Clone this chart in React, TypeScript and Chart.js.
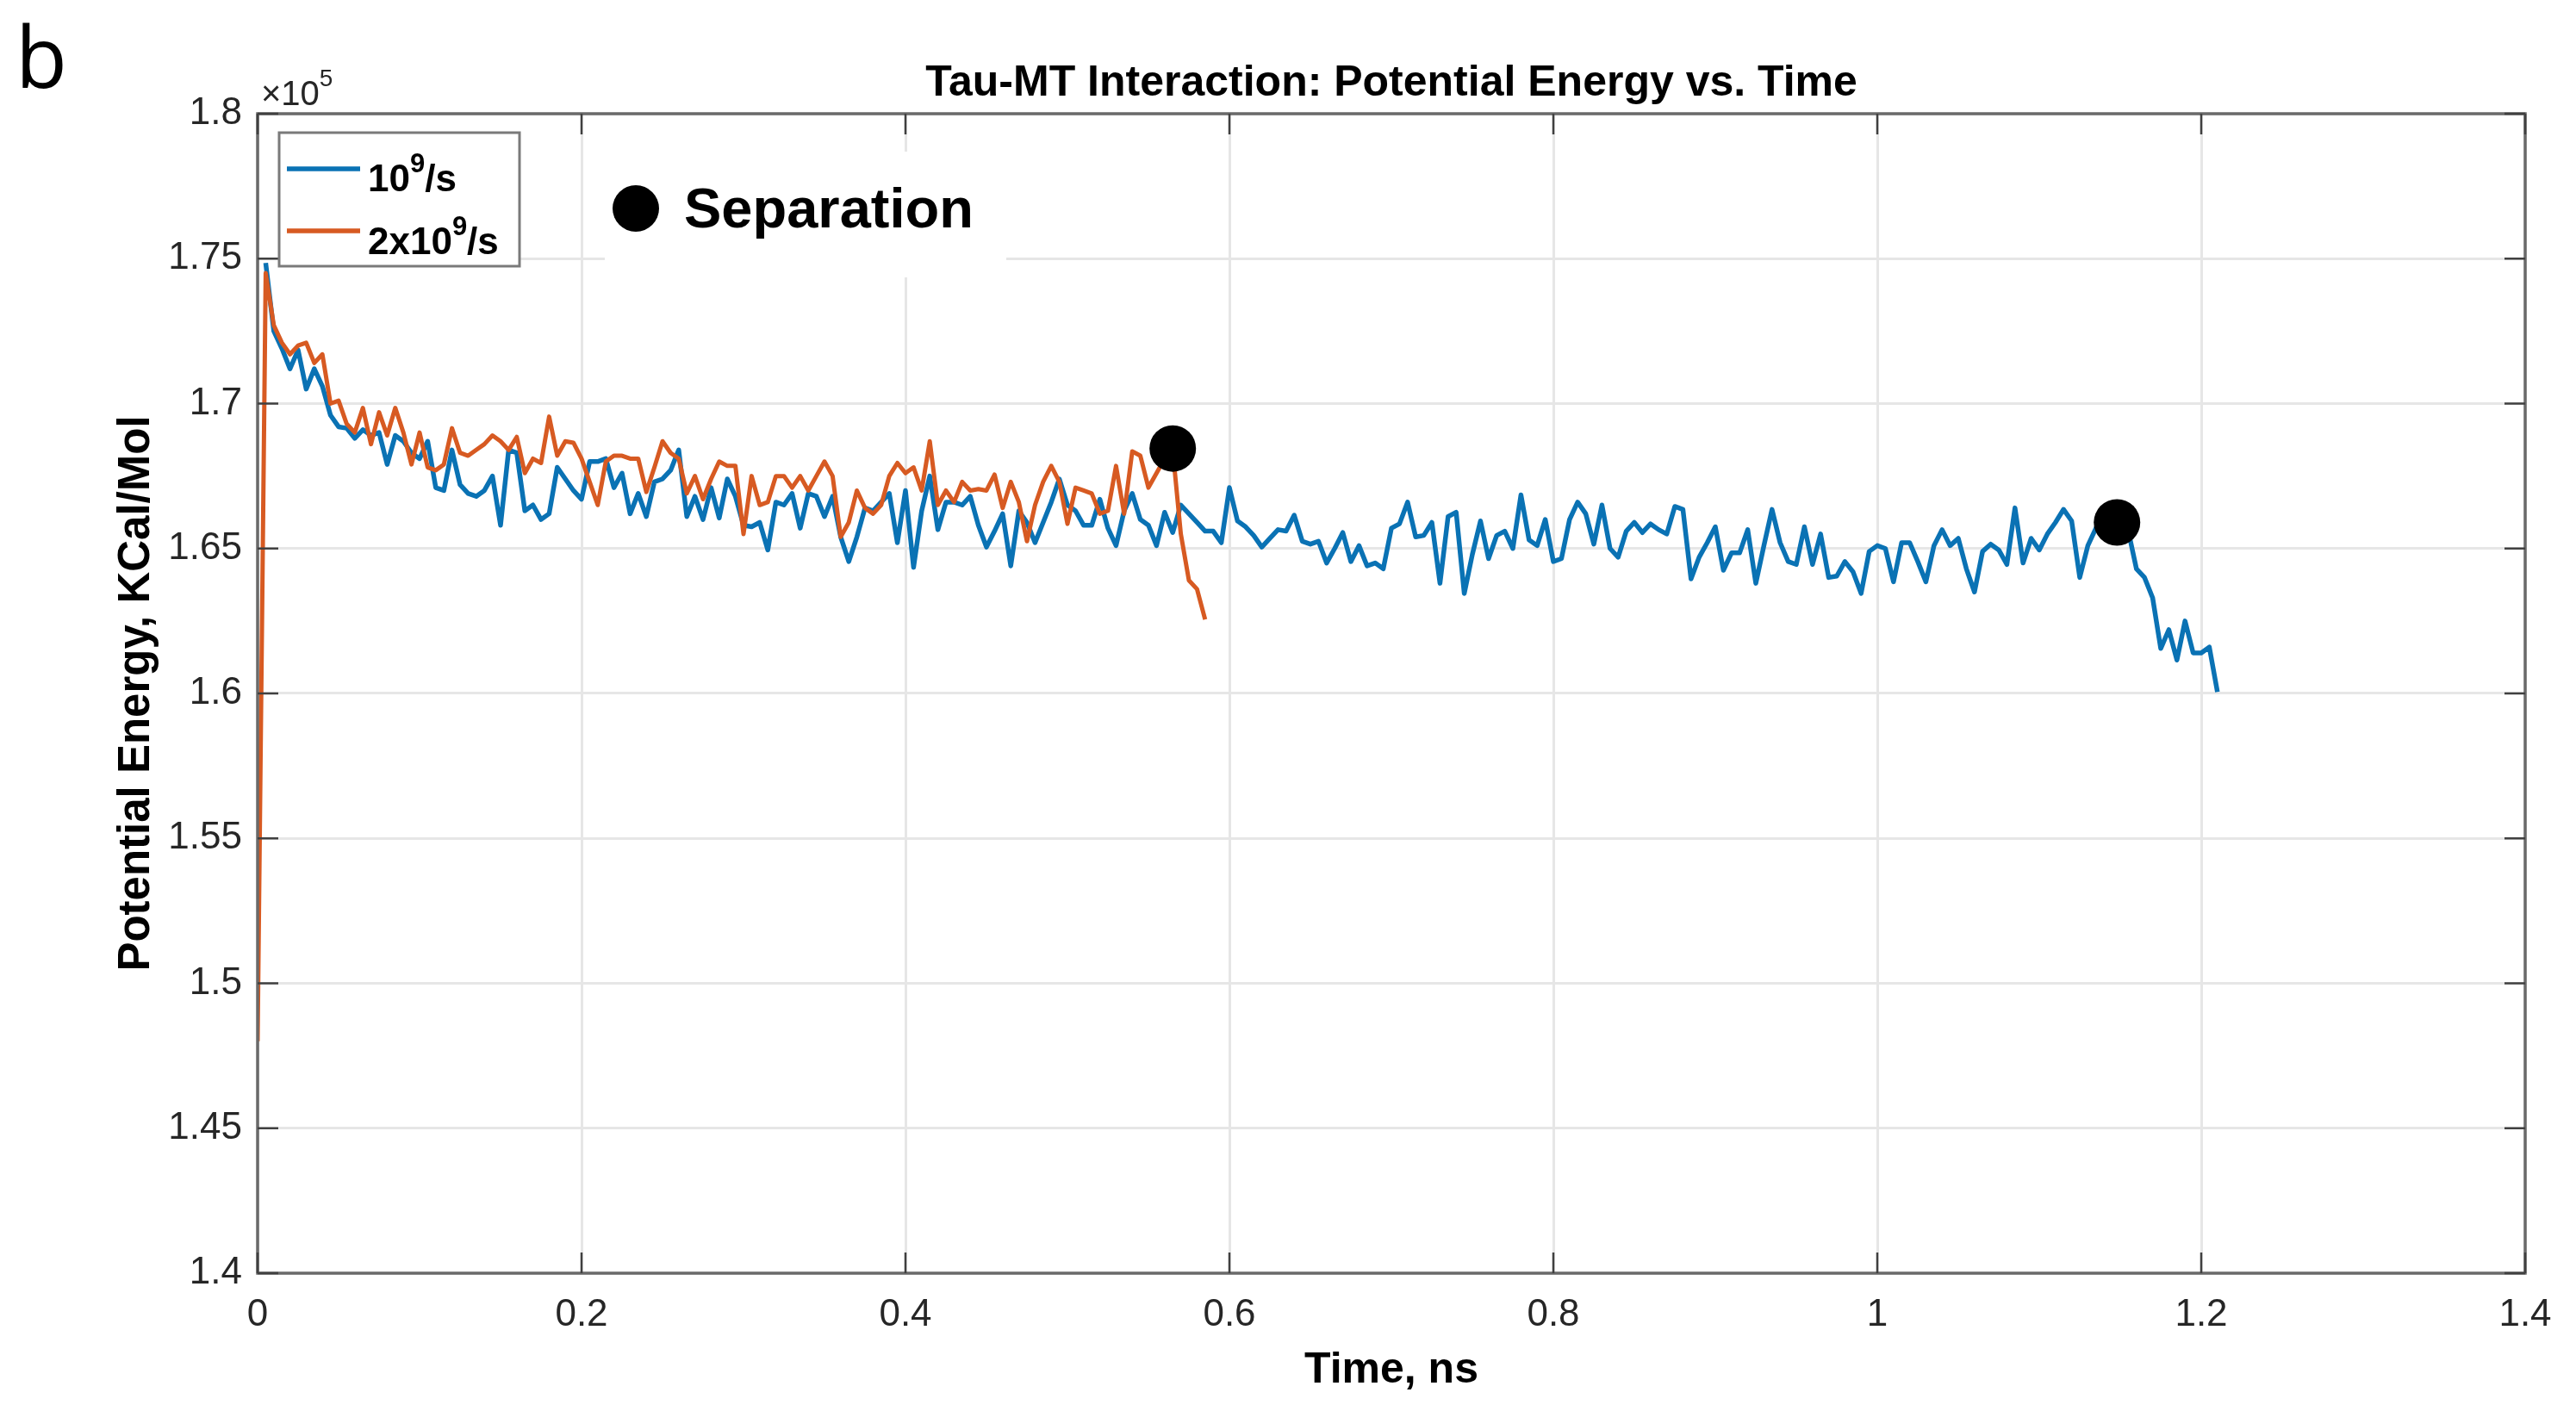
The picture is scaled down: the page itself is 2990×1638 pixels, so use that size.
import React, { useEffect, useRef } from 'react';
import { Chart, registerables } from 'chart.js';

Chart.register(...registerables);

const W = 2990;
const H = 1638;

// Axis ticks (y values in units of 1e5 KCal/Mol)
const X_TICKS = [0, 0.2, 0.4, 0.6, 0.8, 1, 1.2, 1.4];
const Y_TICKS = [1.4, 1.45, 1.5, 1.55, 1.6, 1.65, 1.7, 1.75, 1.8];

// Sampling of the two trajectories (ns)
const BLUE_START = 0.005;
const ORANGE_START = 0;
const SAMPLE_DT = 0.005;

// 10^9/s series (x1e5 KCal/Mol)
const blueValues = [
  1.7485, 1.725, 1.719, 1.712, 1.7185, 1.705, 1.712, 1.706, 1.696, 1.692,
  1.6915, 1.688, 1.691, 1.689, 1.69, 1.679, 1.689, 1.687, 1.683, 1.681,
  1.687, 1.671, 1.67, 1.684, 1.672, 1.669, 1.668, 1.67, 1.675, 1.658,
  1.684, 1.683, 1.663, 1.665, 1.66, 1.662, 1.678, 1.674, 1.67, 1.667,
  1.68, 1.68, 1.681, 1.671, 1.676, 1.662, 1.669, 1.661, 1.673, 1.674,
  1.677, 1.684, 1.661, 1.668, 1.66, 1.671, 1.6605, 1.674, 1.668, 1.658,
  1.6575, 1.659, 1.6495, 1.666, 1.665, 1.669, 1.657, 1.669, 1.668, 1.661,
  1.668, 1.654, 1.6455, 1.654, 1.664, 1.663, 1.666, 1.669, 1.652, 1.67,
  1.6435, 1.663, 1.675, 1.6565, 1.666, 1.666, 1.665, 1.668, 1.658, 1.6505,
  1.656, 1.662, 1.644, 1.663, 1.659, 1.652, 1.659, 1.666, 1.674, 1.665,
  1.663, 1.658, 1.658, 1.667, 1.657, 1.651, 1.663, 1.669, 1.66, 1.658,
  1.651, 1.6625, 1.6555, 1.665, 1.662, 1.659, 1.656, 1.656, 1.652, 1.671,
  1.6595, 1.6575, 1.6545, 1.6505, 1.6535, 1.6565, 1.656, 1.6615, 1.6525, 1.6515,
  1.6525, 1.645, 1.65, 1.6555, 1.6455, 1.651, 1.644, 1.645, 1.643, 1.657,
  1.6585, 1.666, 1.654, 1.6545, 1.659, 1.638, 1.661, 1.6625, 1.6345, 1.648,
  1.6595, 1.6465, 1.6545, 1.656, 1.65, 1.6685, 1.653, 1.651, 1.66, 1.6455,
  1.6465, 1.66, 1.666, 1.662, 1.6515, 1.665, 1.65, 1.647, 1.656, 1.659,
  1.6555, 1.6585, 1.6565, 1.655, 1.6645, 1.6635, 1.6395, 1.647, 1.652, 1.6575,
  1.6425, 1.6485, 1.6485, 1.6565, 1.638, 1.651, 1.6635, 1.652, 1.6455, 1.6445,
  1.6575, 1.6445, 1.655, 1.64, 1.6405, 1.6455, 1.642, 1.6345, 1.649, 1.651,
  1.65, 1.6385, 1.652, 1.652, 1.6455, 1.6385, 1.651, 1.6565, 1.651, 1.6535,
  1.643, 1.635, 1.649, 1.6515, 1.6495, 1.6445, 1.664, 1.645, 1.6535, 1.6495,
  1.655, 1.659, 1.6635, 1.6595, 1.64, 1.651, 1.657, 1.661, 1.664, 1.663,
  1.656, 1.643, 1.64, 1.633, 1.6155, 1.622, 1.6115, 1.625, 1.614, 1.614,
  1.616, 1.6005,
];

// 2x10^9/s series (x1e5 KCal/Mol)
const orangeValues = [
  1.48, 1.745, 1.727, 1.721, 1.717, 1.72, 1.721, 1.714, 1.717, 1.7,
  1.701, 1.693, 1.69, 1.6985, 1.686, 1.697, 1.689, 1.6985, 1.69, 1.679,
  1.69, 1.678, 1.677, 1.679, 1.6915, 1.683, 1.682, 1.684, 1.686, 1.689,
  1.687, 1.684, 1.6885, 1.676, 1.681, 1.6795, 1.6955, 1.682, 1.687, 1.6865,
  1.681, 1.673, 1.665, 1.68, 1.682, 1.682, 1.681, 1.681, 1.6695, 1.678,
  1.687, 1.683, 1.681, 1.669, 1.675, 1.667, 1.674, 1.68, 1.6785, 1.6785,
  1.655, 1.675, 1.665, 1.666, 1.675, 1.675, 1.671, 1.675, 1.67, 1.675,
  1.68, 1.675, 1.654, 1.659, 1.67, 1.664, 1.662, 1.665, 1.675, 1.6795,
  1.676, 1.678, 1.67, 1.687, 1.665, 1.67, 1.666, 1.673, 1.67, 1.6705,
  1.67, 1.6755, 1.664, 1.673, 1.666, 1.6525, 1.665, 1.673, 1.6785, 1.673,
  1.6585, 1.671, 1.67, 1.669, 1.662, 1.663, 1.6785, 1.662, 1.6835, 1.682,
  1.671, 1.676, 1.681, 1.684, 1.655, 1.639, 1.636, 1.6255,
];

// Separation markers
const separationT = [0.565, 1.148];
const separationV = [1.6845, 1.659];

const BLUE = '#0a72b4';
const ORANGE = '#d75a22';
const FONT = '"Liberation Sans", Arial, sans-serif';
const AXIS_COLOR = '#262626';

type Part = { t: string; size: number; dy: number };

function drawParts(ctx: CanvasRenderingContext2D, x: number, y: number, parts: Part[], weight: string) {
  let cx = x;
  for (const p of parts) {
    ctx.font = `${weight} ${p.size}px ${FONT}`;
    ctx.fillText(p.t, cx, y + p.dy);
    cx += ctx.measureText(p.t).width;
  }
}

const decorPlugin = {
  id: 'decor',
  beforeDatasetsDraw(chart: any) {
    const ctx: CanvasRenderingContext2D = chart.ctx;
    ctx.save();
    // white background of the "Separation" annotation
    ctx.fillStyle = '#ffffff';
    ctx.fillRect(702, 176, 466, 146);
    ctx.restore();
  },
  afterDatasetsDraw(chart: any) {
    const ctx: CanvasRenderingContext2D = chart.ctx;
    const { left, right, top, bottom } = chart.chartArea;
    const xs = chart.scales.x;
    const ys = chart.scales.y;
    ctx.save();
    ctx.strokeStyle = '#6a6a6a';
    ctx.lineWidth = 3.5;
    ctx.strokeRect(left, top, right - left, bottom - top);
    ctx.strokeStyle = '#404040';
    ctx.lineWidth = 2.5;
    const tl = 24;
    ctx.beginPath();
    for (const v of X_TICKS) {
      const px = xs.getPixelForValue(v);
      ctx.moveTo(px, bottom);
      ctx.lineTo(px, bottom - tl);
      ctx.moveTo(px, top);
      ctx.lineTo(px, top + tl);
    }
    for (const v of Y_TICKS) {
      const py = ys.getPixelForValue(v);
      ctx.moveTo(left, py);
      ctx.lineTo(left + tl, py);
      ctx.moveTo(right, py);
      ctx.lineTo(right - tl, py);
    }
    ctx.stroke();
    ctx.restore();
  },
  afterDraw(chart: any) {
    const ctx: CanvasRenderingContext2D = chart.ctx;
    const { left, right, top, bottom } = chart.chartArea;
    const cx = (left + right) / 2;
    ctx.save();
    ctx.fillStyle = '#000';
    ctx.textBaseline = 'alphabetic';

    // panel letter
    ctx.textAlign = 'left';
    ctx.font = `400 98px "Open Sans", ${FONT}`;
    ctx.fillText('b', 18, 102);

    // exponent label
    ctx.fillStyle = AXIS_COLOR;
    drawParts(ctx, 303, 122, [
      { t: '\u00d710', size: 40, dy: 0 },
      { t: '5', size: 28, dy: -22 },
    ], '400');

    // title
    ctx.fillStyle = '#000';
    ctx.textAlign = 'center';
    ctx.font = `bold 50px ${FONT}`;
    ctx.fillText('Tau-MT Interaction: Potential Energy vs. Time', cx, 111);

    // x label
    ctx.font = `bold 50px ${FONT}`;
    ctx.fillText('Time, ns', cx, 1605);

    // y label
    ctx.save();
    ctx.translate(173, (top + bottom) / 2);
    ctx.rotate(-Math.PI / 2);
    ctx.font = `bold 51px ${FONT}`;
    ctx.fillText('Potential Energy, KCal/Mol', 0, 0);
    ctx.restore();

    // legend box
    ctx.textAlign = 'left';
    ctx.fillStyle = '#ffffff';
    ctx.fillRect(324, 154, 279, 155);
    ctx.strokeStyle = '#7a7a7a';
    ctx.lineWidth = 3;
    ctx.strokeRect(324, 154, 279, 155);
    ctx.lineWidth = 5.5;
    ctx.strokeStyle = BLUE;
    ctx.beginPath();
    ctx.moveTo(333, 196);
    ctx.lineTo(418, 196);
    ctx.stroke();
    ctx.strokeStyle = ORANGE;
    ctx.beginPath();
    ctx.moveTo(333, 268);
    ctx.lineTo(418, 268);
    ctx.stroke();
    ctx.fillStyle = '#000';
    drawParts(ctx, 427, 222, [
      { t: '10', size: 44, dy: 0 },
      { t: '9', size: 31, dy: -22 },
      { t: '/s', size: 44, dy: 0 },
    ], 'bold');
    drawParts(ctx, 427, 295, [
      { t: '2x10', size: 44, dy: 0 },
      { t: '9', size: 31, dy: -22 },
      { t: '/s', size: 44, dy: 0 },
    ], 'bold');

    // Separation annotation
    ctx.fillStyle = '#000';
    ctx.beginPath();
    ctx.arc(738, 242, 27, 0, Math.PI * 2);
    ctx.fill();
    ctx.font = `bold 65px ${FONT}`;
    ctx.fillText('Separation', 794, 264);

    ctx.restore();
  },
};

export default function App() {
  const ref = useRef<HTMLCanvasElement>(null);

  useEffect(() => {
    if (!ref.current) return;
    const bluePts = blueValues.map((v, i) => ({ x: BLUE_START + i * SAMPLE_DT, y: v }));
    const orangePts = orangeValues.map((v, i) => ({ x: ORANGE_START + i * SAMPLE_DT, y: v }));
    const sepPts = separationT.map((t, i) => ({ x: t, y: separationV[i] }));

    const chart = new Chart(ref.current, {
      type: 'scatter',
      data: {
        datasets: [
          {
            label: 'Separation',
            data: sepPts,
            pointRadius: 27,
            pointHoverRadius: 27,
            backgroundColor: '#000',
            borderWidth: 0,
            showLine: false,
            order: 0,
          } as any,
          {
            label: '2x10^9/s',
            data: orangePts,
            showLine: true,
            borderColor: ORANGE,
            borderWidth: 5,
            pointRadius: 0,
            tension: 0,
            borderJoinStyle: 'round',
            order: 1,
          },
          {
            label: '10^9/s',
            data: bluePts,
            showLine: true,
            borderColor: BLUE,
            borderWidth: 5.5,
            pointRadius: 0,
            tension: 0,
            borderJoinStyle: 'round',
            order: 2,
          },
        ],
      },
      options: {
        responsive: false,
        animation: false,
        devicePixelRatio: 1,
        layout: { padding: { top: 132, right: 59, left: 0, bottom: 0 } },
        plugins: {
          legend: { display: false },
          tooltip: { enabled: false },
          title: { display: false },
        },
        scales: {
          x: {
            type: 'linear',
            min: 0,
            max: 1.4,
            afterFit: (s: any) => { s.height = 160; },
            afterBuildTicks: (s: any) => { s.ticks = X_TICKS.map((value) => ({ value })); },
            grid: { color: '#e6e6e6', lineWidth: 3, drawTicks: false },
            border: { display: false },
            ticks: {
              color: AXIS_COLOR,
              font: { family: FONT, size: 44 },
              padding: 22,
              maxRotation: 0,
              autoSkip: false,
              callback: (v: any) => String(Math.round(Number(v) * 10) / 10),
            },
          },
          y: {
            type: 'linear',
            min: 1.4,
            max: 1.8,
            afterFit: (s: any) => { s.width = 299; },
            afterBuildTicks: (s: any) => { s.ticks = Y_TICKS.map((value) => ({ value })); },
            grid: { color: '#e6e6e6', lineWidth: 3, drawTicks: false },
            border: { display: false },
            ticks: {
              color: AXIS_COLOR,
              font: { family: FONT, size: 44 },
              padding: 18,
              autoSkip: false,
              callback: (v: any) => String(Math.round(Number(v) * 100) / 100),
            },
          },
        },
      },
      plugins: [decorPlugin],
    });
    return () => chart.destroy();
  }, []);

  return (
    <div style={{ position: 'fixed', left: 0, top: 0, width: W, height: H, background: '#fff' }}>
      <canvas ref={ref} width={W} height={H} style={{ display: 'block', width: W, height: H }} />
    </div>
  );
}
